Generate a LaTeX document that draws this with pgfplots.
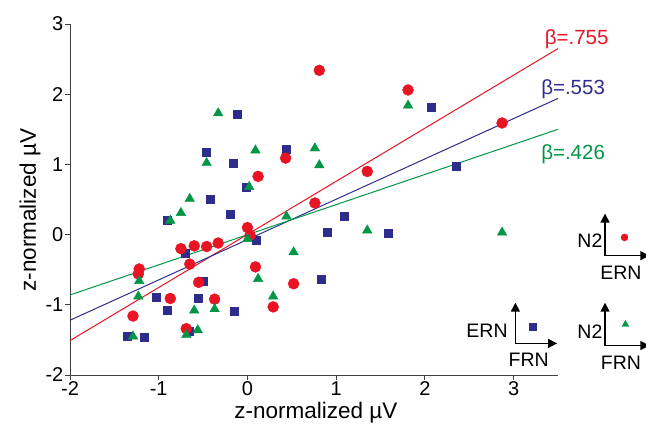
\documentclass[border=0pt]{standalone}
\usepackage{fontspec}
\setmainfont{Liberation Sans}
\usepackage{pgfplots}
\pgfplotsset{compat=1.18}
\usetikzlibrary{arrows.meta}

\definecolor{n2ern}{RGB}{232,20,36}
\definecolor{ernfrn}{RGB}{46,45,140}
\definecolor{n2frn}{RGB}{0,150,70}

\begin{document}
\begin{tikzpicture}
\begin{axis}[
    at={(0pt,0pt)}, anchor=south west,
    width=488pt, height=351pt, scale only axis,
    xmin=-2, xmax=3.5, ymin=-2, ymax=3,
    axis lines=left,
    axis line style={-, line width=0.9pt, black!75},
    tick align=outside, major tick length=5pt,
    tick style={line width=0.9pt, black!75},
    xtick={-2,-1,0,1,2,3}, ytick={-2,-1,0,1,2,3},
    /pgf/number format/assume math mode=true,
    ticklabel style={font=\fontsize{20}{20}\selectfont, inner sep=1.5pt},
    xlabel={z-normalized µV}, ylabel={z-normalized µV},
    every axis x label/.append style={at={(axis description cs:0.504,-0.108)}, anchor=center, inner sep=1pt},
    every axis y label/.append style={at={(axis description cs:-0.082,0.47)}, anchor=center, inner sep=1pt},
    label style={font=\fontsize{22.5}{22.5}\selectfont},
    clip=false,
]
% ERN vs FRN
\addplot[only marks, mark=square*, mark size=4pt, color=ernfrn] coordinates {
(-0.12,1.72) (2.07,1.82) (-0.46,1.18) (0.44,1.22) (-0.16,1.01) (2.35,0.98)
(-0.01,0.67) (-0.42,0.50) (-0.19,0.29) (-0.91,0.20) (1.09,0.26) (0.90,0.04)
(1.59,0.02) (0.10,-0.08) (-0.70,-0.27) (-0.50,-0.66) (0.83,-0.64) (-1.03,-0.89)
(-0.55,-0.90) (-0.91,-1.07) (-0.15,-1.09) (-1.36,-1.45) (-1.16,-1.46) (-0.66,-1.38)};
% N2 vs ERN
\addplot[only marks, mark=*, mark size=5.5pt, color=n2ern] coordinates {
(0.81,2.34) (1.81,2.06) (2.87,1.59) (0.43,1.09) (1.35,0.90) (0.12,0.83)
(0.76,0.45) (0.00,0.10) (0.03,-0.01) (-0.33,-0.12) (-0.46,-0.17) (-0.60,-0.16)
(-0.75,-0.20) (-0.65,-0.42) (-1.22,-0.49) (-1.23,-0.56) (0.09,-0.46) (-0.55,-0.68)
(0.52,-0.70) (-0.87,-0.91) (-0.37,-0.92) (0.29,-1.03) (-1.29,-1.16) (-0.69,-1.34)};
% N2 vs FRN
\addplot[only marks, mark=triangle*, mark size=5.5pt, color=n2frn] coordinates {
(-0.33,1.73) (0.09,1.20) (1.81,1.84) (0.76,1.23) (0.81,0.99) (-0.46,1.02)
(0.02,0.68) (-0.65,0.51) (-0.75,0.31) (-0.87,0.20) (0.44,0.26) (1.35,0.06)
(2.87,0.03) (0.00,-0.06) (0.52,-0.25) (-1.22,-0.66) (0.12,-0.63) (-1.23,-0.88)
(0.29,-0.88) (-0.60,-1.08) (-0.37,-1.06) (-1.29,-1.45) (-0.69,-1.43) (-0.56,-1.36)};

% regression lines
\addplot[n2ern, line width=1pt] coordinates {(-2,-1.51) (3.5,2.65)};
\addplot[ernfrn, line width=1pt] coordinates {(-2,-1.22) (3.5,1.94)};
\addplot[n2frn, line width=1pt] coordinates {(-2,-0.86) (3.5,1.50)};

\node[n2ern, font=\fontsize{20.5}{20.5}\selectfont] at (3.71,2.79) {β=.755};
\node[ernfrn, font=\fontsize{20.5}{20.5}\selectfont] at (3.67,2.07) {β=.553};
\node[n2frn, font=\fontsize{20.5}{20.5}\selectfont] at (3.67,1.15) {β=.426};

% small axis keys
\addplot[only marks, mark=*, mark size=3.5pt, color=n2ern, forget plot] coordinates {(4.25,-0.04)};
\addplot[only marks, mark=square*, mark size=3.5pt, color=ernfrn, forget plot] coordinates {(3.22,-1.31)};
\addplot[only marks, mark=triangle*, mark size=4pt, color=n2frn, forget plot] coordinates {(4.26,-1.28)};

\begin{scope}[line width=1.4pt, {Triangle[length=9pt,width=9pt]}-{Triangle[length=9pt,width=9pt]}]
\draw (4.03,0.30) -- (4.03,-0.30) -- (4.53,-0.30);
\draw (4.03,-0.97) -- (4.03,-1.58) -- (4.53,-1.58);
\draw (3.02,-0.97) -- (3.02,-1.55) -- (3.49,-1.55);
\end{scope}
\begin{scope}[font=\fontsize{19.5}{19.5}\selectfont]
\node at (3.86,-0.09) {N2};
\node at (4.21,-0.54) {ERN};
\node at (3.86,-1.38) {N2};
\node at (4.21,-1.82) {FRN};
\node at (2.70,-1.37) {ERN};
\node at (3.17,-1.79) {FRN};
\end{scope}
\end{axis}
\pgfresetboundingbox
\path (-70pt,-50pt) rectangle (576pt,375pt);
\end{tikzpicture}
\end{document}
